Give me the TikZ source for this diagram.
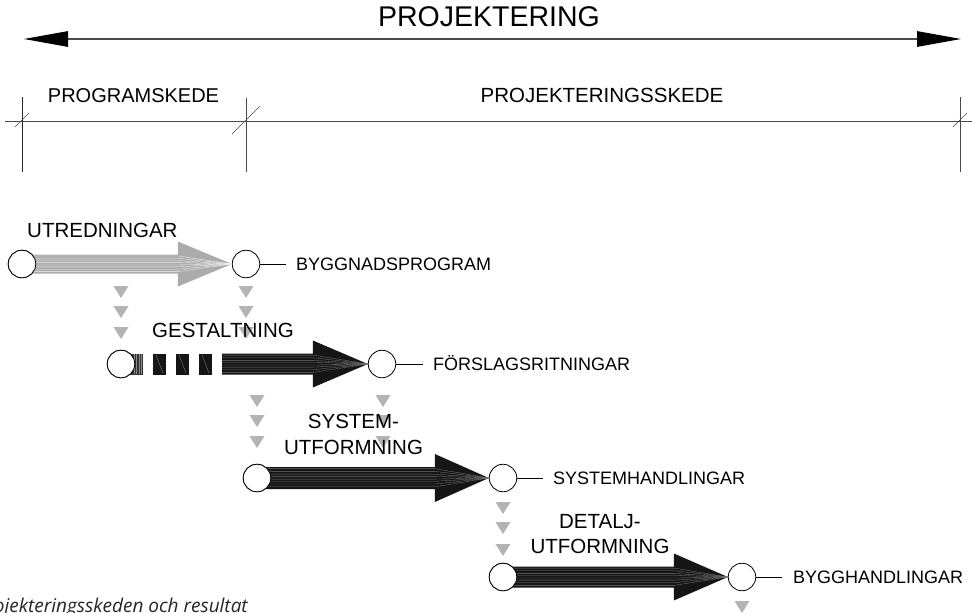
\documentclass[tikz,border=0pt]{standalone}
\usepackage{fontspec}
\setmainfont{Liberation Sans}
\newfontfamily\capfont{Open Sans}
\usetikzlibrary{calc,arrows.meta}
\definecolor{tri}{HTML}{B4B4B4}
\definecolor{garrow}{HTML}{ABABAB}
\definecolor{barrow}{HTML}{151515}
\definecolor{rule}{HTML}{4A4A4A}
\tikzset{
  ring/.style={circle,draw=black,fill=white,line width=0.8pt,minimum size=27.5pt,inner sep=0pt},
  lbl/.style={inner sep=0pt,font=\fontsize{20.5}{25}\selectfont,align=center},
  res/.style={inner sep=0pt,font=\fontsize{18}{22}\selectfont,anchor=base west},
  lead/.style={line width=0.8pt,black},
  trimark/.style={fill=tri},
  tick/.style={line width=0.6pt,rule},
}
\newcommand\FatArr[7]{% #1 start coord, #2 end node, #3 headlen, #4 halfbody, #5 halfhead, #6 fill, #7 streak colour
  \coordinate (fa-s) at (#1);
  \coordinate (fa-t) at (#2.west);
  \coordinate (fa-b) at ($(fa-t)+(-#3,0)$);
  \fill[#6] ($(fa-s)+(0,-#4)$) -- ($(fa-b)+(0,-#4)$) -- ($(fa-b)+(0,-#5)$) -- (fa-t)
     -- ($(fa-b)+(0,#5)$) -- ($(fa-b)+(0,#4)$) -- ($(fa-s)+(0,#4)$) -- cycle;
  \begin{scope}
    \clip ($(fa-s)+(0,-#4)$) -- ($(fa-b)+(0,-#4)$) -- ($(fa-b)+(0,-#5)$) -- (fa-t)
     -- ($(fa-b)+(0,#5)$) -- ($(fa-b)+(0,#4)$) -- ($(fa-s)+(0,#4)$) -- cycle;
    \foreach \d in {-0.85,-0.6,-0.35,-0.15,0.1,0.3,0.55,0.8}{
      \draw[#7,line width=0.35pt] ($(fa-s)+(0,\d*#4)$) -- ($(fa-b)+(0,\d*#4)$) -- (fa-t);
    }
  \end{scope}
}
\newcommand\DTri[2]{\fill[trimark] ({#1-7.5},{#2-6}) -- ({#1+7.5},{#2-6}) -- (#1,{#2+6}) -- cycle;}
\begin{document}
\begin{tikzpicture}[x=1pt,y=-1pt]
\clip (0,0) rectangle (972,613);
\fill[white] (0,0) rectangle (972,613);

% top: PROJEKTERING
\node[inner sep=0pt,anchor=base,font=\fontsize{28.5}{30}\selectfont] (proj) at (489,26.5) {PROJEKTERING};
\coordinate (pl) at (24,39);
\coordinate (pr) at (961,39);
\draw[line width=1.2pt,rule,{Triangle[length=44pt,width=15.5pt,black]}-{Triangle[length=44pt,width=15.5pt,black]}] (pl) -- (pr);

% phases
\node[inner sep=0pt,anchor=base,font=\fontsize{20}{24}\selectfont] (prog) at (133.5,102) {PROGRAMSKEDE};
\node[inner sep=0pt,anchor=base,font=\fontsize{20.5}{24}\selectfont] (projs) at (602,102) {PROJEKTERINGSSKEDE};
\draw[line width=0.8pt,rule] (5,121) -- (972,121);
\draw[line width=0.8pt,black!85] (22,97) -- (22,172);
\draw[line width=0.8pt,rule] (246,98) -- (246,172);
\draw[line width=0.8pt,rule] (960,97) -- (960,172);
\draw[tick] (15,127) -- (29,113);
\draw[tick] (232,134) -- (260,106);
\draw[tick] (953,127) -- (967,113);

% grey down triangles (behind texts)
\foreach \y in {292,312,333}{\DTri{121}{\y}\DTri{246}{\y}}
\foreach \y in {401,421,442}{\DTri{257}{\y}\DTri{383}{\y}}
\foreach \y in {508,528,550}{\DTri{503}{\y}}
\DTri{742}{607}

% circles
\node[ring] (a1) at (22,264) {};
\node[ring] (a2) at (246,264) {};
\node[ring] (b1) at (121,364) {};
\node[ring] (b2) at (382,364) {};
\node[ring] (c1) at (257,478) {};
\node[ring] (c2) at (503,478) {};
\node[ring] (d1) at (503,577) {};
\node[ring] (d2) at (742,577) {};

% row 1 arrow
\FatArr{a1.center}{a2}{54}{9.5}{22.5}{garrow}{white!85!garrow}
\node[ring] at (a1) {};

% row 2 arrow with broken tail
\fill[black!80] (121,353.5) rectangle (143,374.5);
\foreach \x in {134,136.5,139,141.5}{\draw[black!45,line width=0.3pt] (\x,354) -- (\x,374);}
\foreach \x in {153,176,199}{
  \fill[barrow] (\x,353.5) rectangle ({\x+12.5},374.5);
  \draw[black!45,line width=0.3pt] ({\x+3},355) -- ({\x+10},373);
}
\coordinate (b1s) at (222,364);
\FatArr{b1s}{b2}{55}{10.5}{23.5}{barrow}{black!55}
\node[ring] at (b1) {};

% row 3 and row 4 arrows
\FatArr{c1.center}{c2}{54}{11}{24}{barrow}{black!55}
\node[ring] at (c1) {};
\FatArr{d1.center}{d2}{54}{10.5}{23.5}{barrow}{black!55}
\node[ring] at (d1) {};

% activity labels
\node[lbl,anchor=base west] (t1) at (27,237.5) {UTREDNINGAR};
\node[lbl,anchor=base west] (t2) at (152,337) {GESTALTNING};
\node[lbl,anchor=base] (t3) at (353.5,428.5) {SYSTEM-};
\node[lbl,anchor=base] (t3b) at (353.5,454) {UTFORMNING};
\node[lbl,anchor=base] (t4) at (600,528.5) {DETALJ-};
\node[lbl,anchor=base] (t4b) at (600,553) {UTFORMNING};

% results
\node[res] (r1) at (296,270.5) {BYGGNADSPROGRAM};
\node[res] (r2) at (433,370.5) {FÖRSLAGSRITNINGAR};
\node[res] (r3) at (553,484.5) {SYSTEMHANDLINGAR};
\node[res] (r4) at (793,583.5) {BYGGHANDLINGAR};
\draw[lead] (a2.east) -- (286,264);
\draw[lead] (b2.east) -- (423,364);
\draw[lead] (c2.east) -- (543,478);
\draw[lead] (d2.east) -- (782,577);

% caption (cut off by the frame)
\node[inner sep=0pt,anchor=base east,font=\capfont\itshape\fontsize{19}{22}\selectfont,text=black!85] (cap) at (248,612.5) {Projekteringsskeden och resultat};
\end{tikzpicture}
\end{document}
